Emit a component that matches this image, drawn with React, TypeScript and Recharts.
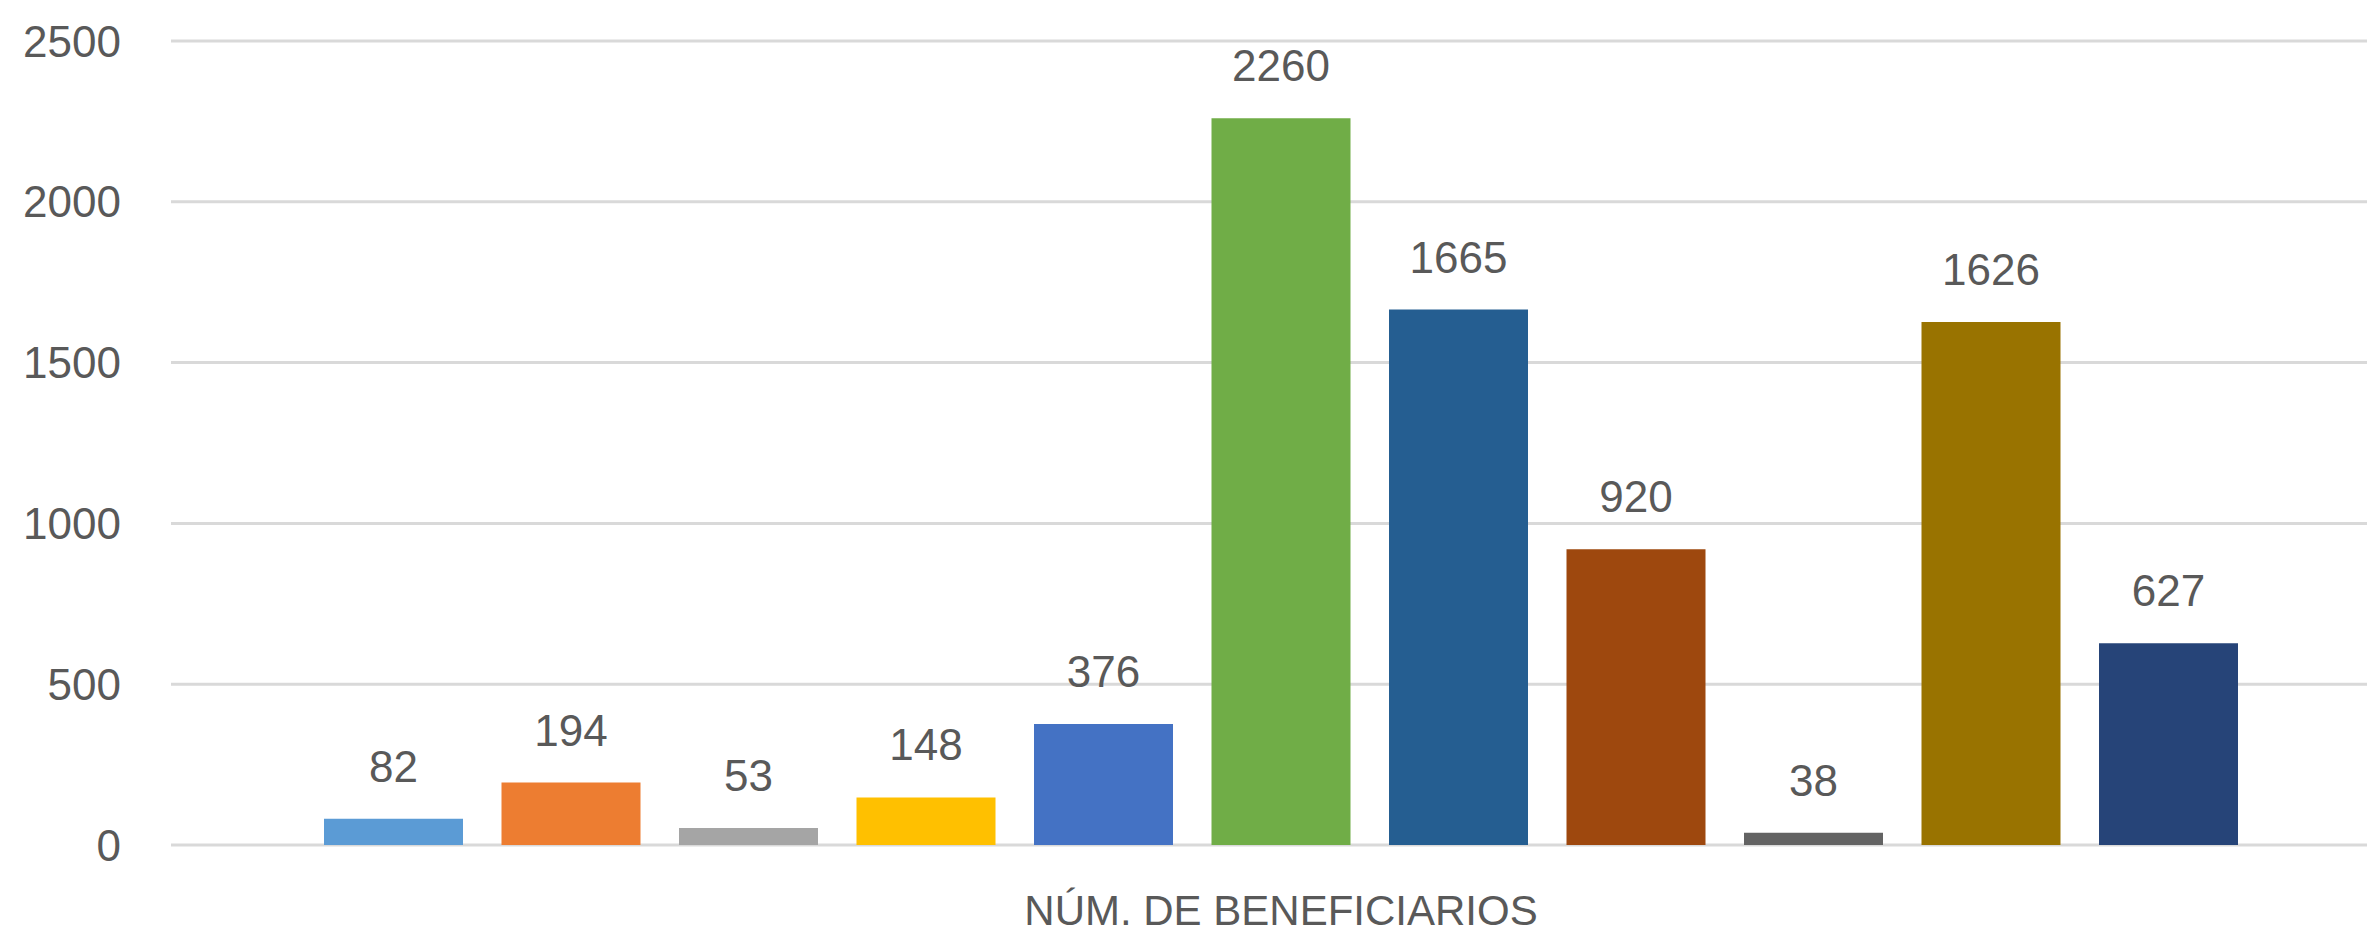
import { BarChart, Bar, XAxis, YAxis, CartesianGrid, LabelList } from "recharts";

const categories = ["NÚM. DE BENEFICIARIOS"];
const seriesKeys = ["s1", "s2", "s3", "s4", "s5", "s6", "s7", "s8", "s9", "s10", "s11"];
const seriesValues = [82, 194, 53, 148, 376, 2260, 1665, 920, 38, 1626, 627];
const seriesColors = [
  "#5B9BD5",
  "#ED7D31",
  "#A5A5A5",
  "#FFC000",
  "#4472C4",
  "#70AD47",
  "#255E91",
  "#9E480E",
  "#636363",
  "#997300",
  "#264478",
];
const yTicks = [0, 500, 1000, 1500, 2000, 2500];

const FONT = "'Liberation Sans', Arial, sans-serif";
const TEXT = "#595959";

export default function App() {
  const chartData = categories.map((name) => {
    const row: Record<string, string | number> = { name };
    seriesKeys.forEach((k, i) => {
      row[k] = seriesValues[i];
    });
    return row;
  });

  return (
    <div style={{ position: "absolute", left: 0, top: 0, width: 2367, height: 934, background: "#fff" }}>
      <BarChart
        width={2367}
        height={934}
        data={chartData}
        margin={{ top: 41, right: 0, bottom: 0, left: 0 }}
        barSize={139}
        barGap={38.5}
        style={{ fontFamily: FONT }}
      >
        <CartesianGrid vertical={false} stroke="#D9D9D9" strokeWidth={3} />
        <XAxis
          dataKey="name"
          type="category"
          axisLine={false}
          tickLine={false}
          tickSize={0}
          tickMargin={50}
          height={89}
          padding={{ left: 24, right: 0 }}
          tick={{ fill: TEXT, fontSize: 42, fontFamily: FONT }}
        />
        <YAxis
          domain={[0, 2500]}
          ticks={yTicks}
          axisLine={false}
          tickLine={false}
          tickSize={0}
          tickMargin={50}
          width={171}
          tick={{ fill: TEXT, fontSize: 44, fontFamily: FONT }}
        />
        {seriesKeys.map((k, i) => (
          <Bar key={k} dataKey={k} fill={seriesColors[i]} isAnimationActive={false}>
            <LabelList
              dataKey={k}
              position="top"
              offset={37}
              fill={TEXT}
              fontSize={44}
              fontFamily={FONT}
            />
          </Bar>
        ))}
      </BarChart>
    </div>
  );
}
